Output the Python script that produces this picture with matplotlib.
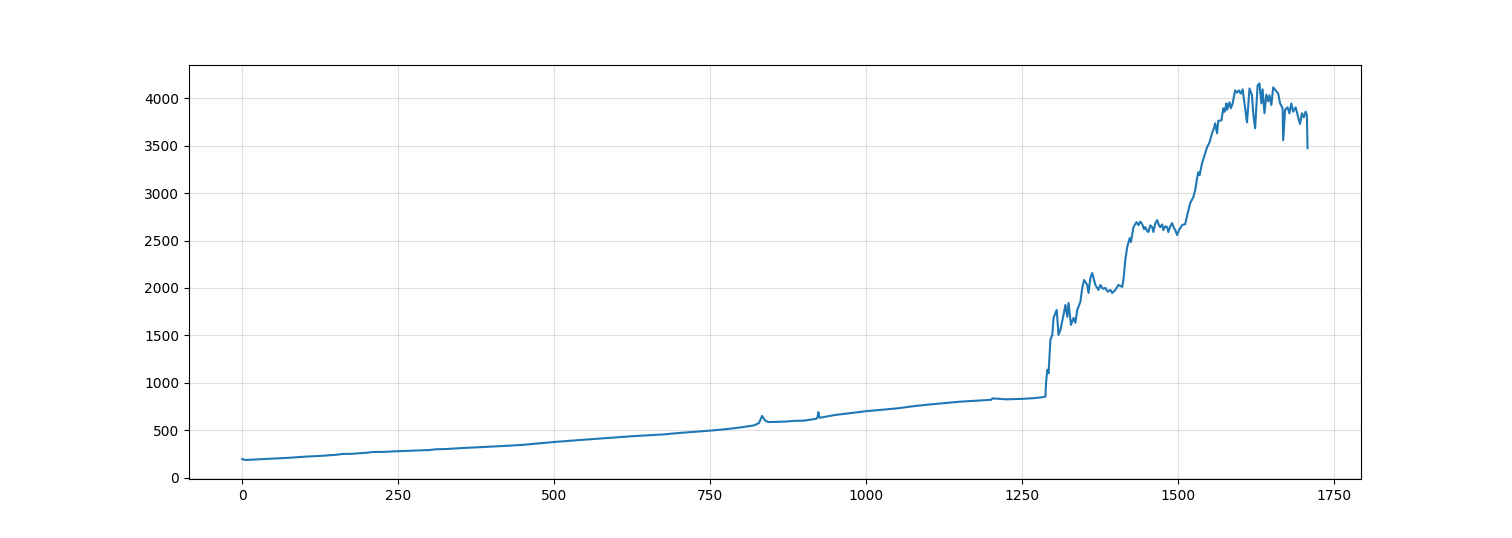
import numpy as np
import matplotlib
matplotlib.use("Agg")
import matplotlib.pyplot as plt

# 读图估计的数据点（x 为序号，y 为数值）
x_vals = [
    0, 5, 25, 50, 75, 100, 125, 150, 160, 175, 200, 210, 225, 250, 275, 300,
    310, 325, 350, 375, 400, 425, 450, 475, 500, 525, 550, 575, 600, 625,
    650, 675, 700, 725, 750, 775, 800, 820, 828, 833, 838, 843, 870, 885,
    900, 920, 922, 923, 925, 950, 975, 1000, 1025, 1050, 1075, 1100, 1125,
    1150, 1175, 1200, 1202, 1225, 1250, 1270, 1285,
    1287, 1288, 1290, 1292, 1295, 1298, 1300, 1305, 1308, 1311, 1316, 1319,
    1322, 1324, 1328, 1332, 1335, 1338, 1343, 1346, 1349, 1354, 1356, 1359,
    1362, 1367, 1372, 1375, 1379, 1383, 1387, 1391, 1394, 1399, 1404, 1410,
    1412, 1415, 1418, 1422, 1424, 1428, 1433, 1436, 1439, 1442, 1445, 1447,
    1450, 1452, 1455, 1458, 1460, 1463, 1466, 1469, 1471, 1474, 1476, 1479,
    1482, 1484, 1487, 1490, 1493, 1495, 1498, 1501, 1504, 1506, 1511, 1515,
    1519, 1524, 1527, 1530, 1532, 1534, 1538, 1542, 1546, 1550, 1554, 1557,
    1559, 1562, 1564, 1569, 1572, 1574, 1577, 1578, 1582, 1584, 1587, 1591,
    1594, 1597, 1600, 1603, 1607, 1610, 1614, 1618, 1620, 1623, 1627, 1630,
    1633, 1635, 1638, 1641, 1644, 1646, 1649, 1652, 1656, 1660, 1663, 1667,
    1668, 1671, 1675, 1678, 1681, 1684, 1688, 1692, 1695, 1698, 1701, 1704,
    1706, 1707,
]
y_vals = [
    195, 185, 192, 200, 208, 220, 228, 240, 248, 250, 262, 270, 270, 278,
    284, 290, 298, 300, 310, 318, 325, 335, 345, 360, 375, 388, 400, 412,
    425, 436, 445, 455, 470, 482, 495, 510, 530, 550, 575, 650, 600, 585,
    590, 598, 600, 620, 640, 690, 630, 660, 680, 700, 715, 730, 752, 770,
    785, 800, 810, 820, 835, 825, 830, 838, 850,
    856, 1000, 1137, 1100, 1453, 1505, 1684, 1768, 1505, 1558, 1716, 1821,
    1695, 1842, 1610, 1684, 1632, 1768, 1853, 2000, 2084, 2032, 1947, 2105,
    2158, 2032, 1979, 2032, 1990, 2000, 1960, 1979, 1947, 1979, 2032, 2011,
    2084, 2295, 2432, 2526, 2484, 2642, 2695, 2663, 2700, 2674, 2620, 2642,
    2600, 2590, 2660, 2642, 2590, 2680, 2716, 2660, 2642, 2670, 2611, 2650,
    2642, 2590, 2650, 2684, 2630, 2611, 2558, 2611, 2640, 2663, 2674, 2789,
    2895, 2958, 3032, 3158, 3221, 3190, 3316, 3400, 3484, 3537, 3632, 3684,
    3737, 3632, 3763, 3768, 3895, 3858, 3947, 3880, 3958, 3895, 3947, 4084,
    4060, 4084, 4050, 4095, 3895, 3747, 4105, 4032, 3842, 3684, 4137, 4158,
    3947, 4095, 3842, 4040, 3970, 4032, 3930, 4116, 4084, 4050, 3947, 3895,
    3558, 3880, 3905, 3842, 3947, 3860, 3905, 3800, 3730, 3842, 3800, 3860,
    3820, 3474,
]

fig, ax = plt.subplots(figsize=(15.12, 5.38), dpi=100)
ax.plot(x_vals, y_vals, color="tab:blue", linewidth=1.5)
ax.grid(True, alpha=0.4)

plt.savefig("out.png", dpi=100)
